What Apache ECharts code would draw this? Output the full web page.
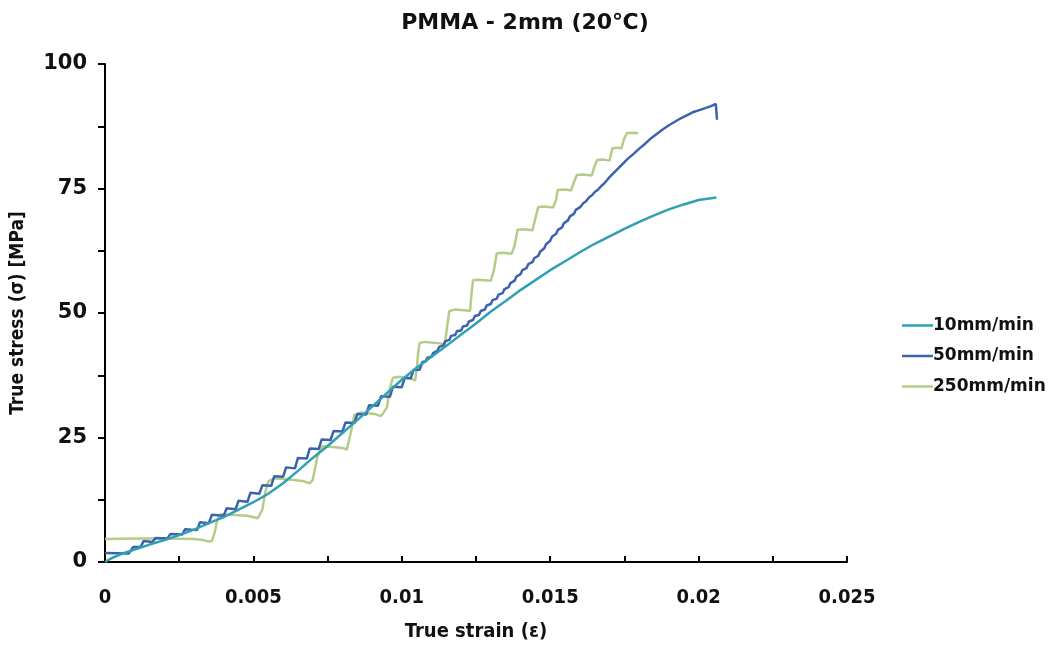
<!DOCTYPE html>
<html>
<head>
<meta charset="utf-8">
<script src="https://cdn.jsdelivr.net/npm/echarts@6/dist/echarts.min.js"></script>
<style>html,body{margin:0;padding:0;background:#fff;}#c{width:1054px;height:648px;}</style>
</head>
<body>
<div id="c"></div>
<script>
const titleText = 'PMMA - 2mm (20\u2103)';
const xName = 'True strain (\u03b5)';
const yName = 'True stress (\u03c3) [MPa]';
const seriesNames = ['10mm/min', '50mm/min', '250mm/min'];
const xTicks = [0, 0.005, 0.01, 0.015, 0.02, 0.025];
const yTicks = [0, 25, 50, 75, 100];

// 10mm/min
const strain10 = [0,0.0002,0.0005,0.001,0.0015,0.002,0.0025,0.003,0.0035,0.004,0.0045,0.005,0.0055,0.006,0.0065,0.007,0.0075,0.008,0.0085,0.009,0.0095,0.01,0.0105,0.011,0.0115,0.012,0.0125,0.013,0.0135,0.014,0.0145,0.015,0.0155,0.016,0.0165,0.017,0.0175,0.018,0.0185,0.019,0.0195,0.02,0.0206];
const stress10 = [0,0.7,1.5,2.5,3.5,4.4,5.4,6.5,7.8,9.0,10.5,12.0,13.7,15.8,18.3,20.9,23.3,25.9,28.5,31.2,33.9,36.6,39.0,41.2,43.4,45.7,47.9,50.3,52.4,54.6,56.6,58.6,60.4,62.2,63.9,65.4,66.9,68.3,69.6,70.8,71.8,72.7,73.2];

// 50mm/min
const strain50 = [0,0.0008,0.00095,0.0012,0.0013,0.0016,0.0017,0.0021,0.0022,0.0026,0.0027,0.0031,0.0032,0.0035,0.0036,0.0040,0.0041,0.0044,0.0045,0.0048,0.0049,0.0052,0.0053,0.0056,0.0057,0.0060,0.0061,0.0064,0.0065,0.0068,0.0069,0.0072,0.0073,0.0076,0.0077,0.0080,0.0081,0.0084,0.0085,0.0088,0.0089,0.0092,0.0093,0.0096,0.0097,0.0100,0.0101,0.0103,0.0104,0.0106,0.0107,
  0.0108,0.01086,0.0110,0.01106,0.0112,0.01126,0.0114,0.01146,0.0116,0.01166,0.0118,0.01186,0.0120,0.01206,0.0122,0.01226,0.0124,0.01246,0.0126,0.01266,0.0128,0.01286,0.0130,0.01306,0.0132,0.01326,0.0134,0.01346,0.0136,0.01366,0.0138,0.01386,0.0140,0.01406,0.0142,0.01426,0.0144,0.01446,0.0146,0.01466,0.0148,0.01486,0.0150,0.01506,0.0152,0.01526,0.0154,0.01546,0.0156,0.01566,0.0158,0.01586,
  0.0160,0.01612,0.0162,0.01632,0.0164,0.01652,0.0166,0.01672,0.0168,0.01692,0.0170,0.0172,0.0174,0.0176,0.0178,0.0180,0.0182,0.0184,0.0186,0.0188,0.0190,0.0192,0.0194,0.0196,0.0198,0.0200,0.0202,0.0204,0.02058,0.02062];
const stress50 = [1.8,1.7,3.0,3.0,4.2,4.0,4.8,4.7,5.6,5.5,6.6,6.4,8.0,7.8,9.5,9.3,10.8,10.6,12.3,12.1,13.9,13.7,15.4,15.3,17.2,17.1,19.0,18.8,20.9,20.8,22.8,22.7,24.6,24.5,26.3,26.2,28.0,27.9,29.7,29.6,31.5,31.4,33.3,33.2,35.2,35.1,37.0,36.9,38.6,38.6,40.2,
  40.2,41.0,41.2,42.0,42.4,43.2,43.5,44.3,44.6,45.4,45.6,46.4,46.5,47.3,47.5,48.3,48.6,49.4,49.6,50.4,50.7,51.5,51.8,52.6,52.9,53.7,54.0,54.8,55.2,56.0,56.5,57.3,57.8,58.6,59.0,59.8,60.2,61.0,61.5,62.3,63.0,63.8,64.5,65.3,65.9,66.7,67.2,68.0,68.6,69.4,69.9,70.7,
  71.2,72.1,72.4,73.3,73.6,74.4,74.7,75.5,75.9,76.7,77.3,78.5,79.7,80.9,81.9,83.0,84.0,85.1,86.0,86.9,87.7,88.4,89.1,89.7,90.3,90.7,91.1,91.5,92.0,88.8];

// 250mm/min
const strain250 = [0,0.001,0.002,0.003,0.0033,0.0035,0.0036,0.0037,0.00378,0.0039,0.0042,0.0048,0.0050,0.00515,0.0053,0.0054,0.0055,0.0057,0.0063,0.0067,0.0069,0.0070,0.00715,0.0073,0.0075,0.0080,0.00815,0.0083,0.0084,0.0086,0.0091,0.0093,0.0095,0.0096,0.0097,0.0099,0.0103,0.01045,0.0105,0.01055,0.0106,0.0108,0.0113,0.01145,0.0115,0.0116,0.0118,0.0122,0.0123,0.01235,0.0124,0.0126,0.0130,0.0131,0.0132,0.0134,0.0137,0.0138,0.0139,0.0141,0.0144,0.0145,0.0146,0.0148,0.0151,0.0152,0.01525,0.0155,0.0157,0.0158,0.0159,0.0161,0.0164,0.01648,0.01658,0.0168,0.0170,0.01705,0.0171,0.0173,0.0174,0.01748,0.01758,0.0178,0.01796];
const stress250 = [4.6,4.7,4.7,4.6,4.4,4.1,4.2,6.0,8.5,9.6,9.5,9.3,9.0,8.8,10.5,14.0,16.2,16.8,16.5,16.2,15.8,16.5,21.0,23.2,23.2,22.9,22.6,26.5,29.5,30.0,29.7,29.3,31.0,35.0,37.0,37.2,36.8,36.5,38.5,42.0,44.0,44.2,43.9,43.6,46.0,50.4,50.7,50.5,50.4,54.0,56.6,56.7,56.5,58.5,62.0,62.1,61.9,63.5,66.7,66.8,66.6,69.0,71.3,71.4,71.2,72.8,74.7,74.8,74.6,76.3,77.7,77.8,77.6,79.2,80.7,80.8,80.6,82.0,83.1,83.2,83.0,84.8,86.1,86.2,86.1];

const colors = ['#2f9fb3', '#3c62ae', '#b4cc88'];
const condFont = "'DejaVu Sans Condensed', 'Liberation Sans', sans-serif";

function pairs(xs, ys) { return xs.map((x, i) => [x, ys[i]]); }

const chart = echarts.init(document.getElementById('c'), null, { renderer: 'canvas' });

const xLabelSet = xTicks.map(v => v.toFixed(4));
const yLabelSet = yTicks.map(v => v.toFixed(1));

chart.setOption({
  animation: false,
  backgroundColor: '#ffffff',
  title: {
    text: titleText,
    left: 520,
    top: 7,
    textAlign: 'center',
    textStyle: { fontFamily: 'DejaVu Sans', fontWeight: 'bold', fontSize: 22, color: '#111' }
  },
  legend: {
    orient: 'vertical',
    left: 897,
    top: 312,
    itemWidth: 31,
    itemHeight: 14,
    itemGap: 13.5,
    icon: 'path://M0,6 L31,6 L31,8.5 L0,8.5 Z',
    textStyle: { fontFamily: 'DejaVu Sans', fontWeight: 'bold', fontSize: 17, color: '#111', padding: [0, 0, 0, -5] },
    data: seriesNames
  },
  grid: { left: 105, right: 207, top: 64, bottom: 86, containLabel: false },
  xAxis: {
    type: 'value',
    min: 0, max: 0.025, interval: 0.0025,
    name: xName,
    nameLocation: 'middle',
    nameGap: 60,
    nameTextStyle: { fontFamily: condFont, fontWeight: 'bold', fontSize: 20, color: '#111' },
    axisLine: { show: true, lineStyle: { color: '#000', width: 2 } },
    axisTick: { show: true, inside: true, length: 6, lineStyle: { color: '#000', width: 2 } },
    splitLine: { show: false },
    axisLabel: {
      margin: 26,
      fontFamily: condFont, fontWeight: 'bold', fontSize: 20, color: '#111',
      formatter: function (v) {
        const k = xLabelSet.indexOf(v.toFixed(4));
        return k >= 0 ? String(xTicks[k]) : '';
      }
    }
  },
  yAxis: {
    type: 'value',
    min: 0, max: 100, interval: 12.5,
    name: yName,
    nameLocation: 'middle',
    nameGap: 77,
    nameTextStyle: { fontFamily: condFont, fontWeight: 'bold', fontSize: 19, color: '#111' },
    axisLine: { show: true, lineStyle: { color: '#000', width: 2 } },
    axisTick: { show: true, inside: false, length: 7, lineStyle: { color: '#000', width: 2 } },
    splitLine: { show: false },
    axisLabel: {
      margin: 18,
      fontFamily: 'DejaVu Sans', fontWeight: 'bold', fontSize: 21, color: '#111',
      formatter: function (v) {
        const k = yLabelSet.indexOf(v.toFixed(1));
        return k >= 0 ? String(yTicks[k]) : '';
      }
    }
  },
  series: [
    { name: seriesNames[0], type: 'line', data: pairs(strain10, stress10), showSymbol: false, symbol: 'none', lineStyle: { width: 2.5, color: colors[0] }, itemStyle: { color: colors[0] }, z: 3 },
    { name: seriesNames[1], type: 'line', data: pairs(strain50, stress50), showSymbol: false, symbol: 'none', lineStyle: { width: 2.5, color: colors[1] }, itemStyle: { color: colors[1] }, z: 2 },
    { name: seriesNames[2], type: 'line', data: pairs(strain250, stress250), showSymbol: false, symbol: 'none', lineStyle: { width: 2.5, color: colors[2] }, itemStyle: { color: colors[2] }, z: 1 }
  ]
});
</script>
</body>
</html>
